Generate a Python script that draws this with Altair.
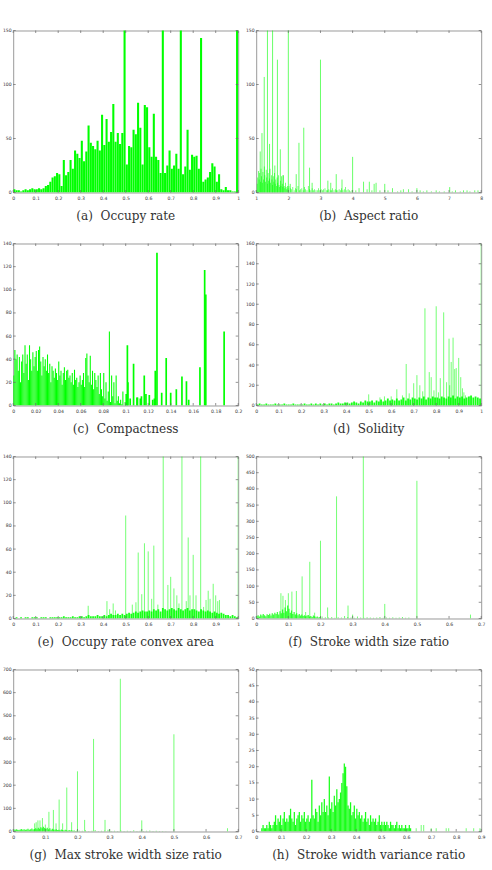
import altair as alt
import pandas as pd

GREEN = "#00ff00"
FRAME = "#9a9a9a"
TICK = "#666666"
W, H = 225, 162
GAP = "\u00a0\u00a0"   # wide gap between a sub-caption's letter and its text

# ---------------- (a) Occupy rate: 100 bins of width 0.01 on [0, 1]
a_counts = [3, 2, 2, 1, 2, 3, 2, 3, 4, 3,
            3, 4, 3, 4, 6, 7, 10, 14, 15, 18,
            17, 6, 30, 16, 19, 30, 22, 39, 36, 32,
            48, 29, 38, 62, 46, 43, 40, 48, 39, 72,
            44, 68, 47, 56, 82, 47, 55, 45, 55, 190,
            26, 43, 42, 58, 54, 83, 60, 26, 81, 79,
            42, 33, 73, 33, 30, 18, 190, 18, 25, 39,
            22, 25, 36, 22, 190, 17, 24, 58, 21, 35,
            33, 34, 22, 143, 10, 12, 14, 19, 27, 24,
            10, 17, 3, 2, 5, 2, 2, 1, 1, 190]

# ---------------- (b) Aspect ratio
b_low = [2, 8, 14, 20, 12, 18, 10, 22, 15, 9,
         19, 12, 24, 16, 10, 21, 14, 8, 18, 11,
         13, 22, 9, 16, 12, 7, 15, 10, 18, 8,
         12, 6, 14, 9, 16, 7, 5, 11, 6, 15,
         8, 5, 16, 6, 4, 9, 5, 3, 6, 4]            # 1.00 .. 2.00, step 0.02
b_mid = [6, 4, 3, 5, 2, 4, 3, 6, 2, 3,
         4, 2, 5, 3, 2, 6, 3, 2, 4, 2,
         3, 2, 2, 4, 2, 3, 2, 3, 4, 2,
         2, 3, 2, 2, 4, 2, 3, 2, 2, 3,
         2, 4, 2, 3, 5, 2, 3, 2, 1, 2]              # 2.00 .. 4.00, step 0.04
b_spike_x = [1.125, 1.18, 1.25, 1.35, 1.415, 1.51, 1.58, 1.66, 1.75, 1.83,
             2.0, 2.06, 2.245, 2.33, 2.48, 2.66, 2.74, 3.0, 3.23, 3.32,
             3.49, 3.67, 4.0, 4.2, 4.34, 4.52, 4.67, 4.73, 5.0, 5.24,
             5.58, 5.74, 6.0, 6.31, 7.02, 7.2, 7.56, 7.8,
             4.1, 4.45, 4.6, 4.85, 5.1, 5.4, 5.5, 5.85, 6.1, 6.2,
             6.45, 6.6, 6.7, 6.85, 7.1, 7.35, 7.45, 7.65, 7.9]
b_spike_n = [38, 55, 107, 180, 45, 180, 25, 123, 40, 16,
             180, 8, 17, 46, 60, 23, 9, 123, 11, 9,
             17, 12, 33, 4, 10, 10, 8, 9, 8, 4,
             3, 3, 4, 2, 5, 2, 2, 2,
             2, 3, 2, 2, 2, 1, 2, 1, 2, 1,
             1, 2, 1, 1, 1, 1, 2, 1, 2]

# ---------------- (c) Compactness
c_low = [26, 48, 40, 44, 30, 42, 20, 38, 44, 28,
         52, 36, 44, 22, 52, 40, 30, 46, 34, 42,
         47, 30, 48, 51, 38, 26, 42, 34, 40, 30,
         44, 28, 36, 20, 34, 30, 24, 32, 28, 22,
         38, 26, 30, 18, 28, 33, 22, 30, 31, 24,
         26, 20, 28, 18, 31, 22, 24, 16, 20, 26,
         18, 22, 28, 16, 41, 45, 26, 20, 43, 18,
         30, 14, 28, 22, 16, 26, 10, 28, 14, 8,
         28, 6, 20, 4, 12, 64, 3, 26, 8, 20,
         2, 26, 4, 8, 2, 5, 1, 12, 0, 3]            # 0 .. 0.1, step 0.001
c_spike_x = [0.1005, 0.1015, 0.102, 0.104, 0.107, 0.110, 0.1105, 0.113, 0.114, 0.1165,
             0.118, 0.121, 0.124, 0.1255, 0.1263, 0.1278, 0.132, 0.136, 0.14, 0.145,
             0.15, 0.154, 0.156, 0.166, 0.1702, 0.1712, 0.1875]
c_spike_n = [10, 52, 20, 6, 36, 7, 7, 6, 8, 26,
             10, 9, 5, 6, 30, 132, 11, 41, 11, 14,
             25, 21, 5, 33, 117, 96, 64]

# ---------------- (d) Solidity
d_low = [1, 2, 1, 1, 2, 1, 1, 1, 2, 1,
         1, 1, 2, 1, 1, 1, 2, 1, 1, 1,
         1, 2, 1, 1, 2, 1, 2, 1, 2, 1,
         2, 1, 2, 2, 1, 2, 3, 2, 2, 3,
         3, 2, 3, 4, 3, 2, 4, 3, 5, 4,
         4, 5, 3, 5, 4, 6, 4, 5, 7, 5,
         6, 5, 7, 5, 6, 8, 5, 7, 6, 8,
         7, 6, 8, 7, 9, 6, 8, 7, 9, 8,
         8, 7, 9, 8, 7, 9, 8, 10, 7, 9,
         8, 9, 7, 8, 9, 10, 8, 9, 8, 7]             # 0 .. 1, step 0.01
d_spike_x = [0.5, 0.6, 0.625, 0.6667, 0.7, 0.7143, 0.7273, 0.75, 0.7692, 0.7778,
             0.8, 0.8182, 0.8333, 0.8462, 0.8571, 0.8667, 0.875, 0.8824, 0.8889, 0.9,
             0.9091, 0.9167, 0.9231, 1.0,
             0.55, 0.57, 0.65, 0.68, 0.74, 0.79, 0.81, 0.86, 0.93, 0.95]
d_spike_n = [11, 9, 16, 41, 22, 30, 20, 96, 33, 28,
             98, 27, 92, 23, 66, 43, 67, 36, 37, 47,
             28, 17, 13, 180,
             8, 9, 10, 12, 14, 15, 13, 20, 10, 9]

# ---------------- (e) Occupy rate convex area
e_low = [0, 1, 0, 1, 0, 1, 1, 0, 1, 1,
         1, 0, 1, 1, 1, 0, 1, 1, 1, 1,
         1, 1, 2, 1, 1, 1, 2, 1, 1, 2,
         2, 1, 2, 3, 2, 2, 2, 3, 2, 2,
         3, 2, 3, 4, 3, 3, 4, 3, 4, 3,
         4, 5, 4, 5, 6, 5, 6, 7, 6, 6,
         7, 6, 8, 7, 8, 6, 9, 8, 7, 8,
         9, 8, 7, 9, 8, 7, 8, 9, 7, 8,
         8, 7, 6, 8, 7, 6, 7, 6, 5, 6,
         5, 4, 5, 4, 3, 3, 2, 3, 2, 1]             # 0 .. 1, step 0.01
e_spike_x = [0.3333, 0.4167, 0.4286, 0.4444, 0.4545, 0.5, 0.5294, 0.5455, 0.5556, 0.5714,
             0.5833, 0.6, 0.6154, 0.625, 0.6429, 0.6667, 0.6875, 0.7, 0.7143, 0.7273,
             0.7368, 0.75, 0.7692, 0.7778, 0.7857, 0.8, 0.8125, 0.8333, 0.8462, 0.8571,
             0.8667, 0.875, 0.8889, 0.9, 0.9091, 0.9167, 1.0]
e_spike_n = [11, 15, 8, 13, 7, 89, 12, 14, 57, 21,
             65, 58, 17, 63, 12, 180, 29, 36, 26, 20,
             13, 180, 15, 70, 20, 55, 20, 180, 10, 16,
             24, 17, 30, 20, 15, 16, 180]

# ---------------- (f) Stroke width size ratio
f_low = [8, 10, 6, 12, 9, 14, 10, 7, 13, 11,
         15, 9, 16, 12, 18, 14, 20, 12, 22, 16,
         28, 18, 34, 22, 40, 30, 18, 25, 14, 20,
         12, 16, 10, 14, 9, 12, 8, 10, 7, 9,
         11, 6, 8, 5, 9, 7, 4, 6, 3, 5]             # 0 .. 0.2, step 0.004
f_mid = [6, 4, 3, 5, 2, 4, 3, 8, 5, 3,
         2, 6, 3, 2, 4, 3, 2, 3, 5, 2,
         3, 2, 4, 2, 3, 5, 2, 3]                    # 0.2 .. 0.48, step 0.01
f_spike_x = [0.0769, 0.0833, 0.0909, 0.1, 0.1111, 0.125, 0.1429, 0.1538, 0.1667, 0.1818,
             0.2, 0.2222, 0.25, 0.2857, 0.3, 0.3333, 0.4, 0.5, 0.6667]
f_spike_n = [78, 70, 57, 78, 83, 85, 130, 20, 175, 18,
             240, 34, 377, 40, 12, 520, 45, 425, 12]

# ---------------- (g) Max stroke width size ratio
g_low = [9, 7, 10, 8, 6, 9, 11, 8, 10, 7,
         9, 12, 8, 10, 13, 9, 11, 14, 10, 16,
         12, 18, 14, 20, 15, 12, 16, 10, 14, 8,
         12, 9, 7, 10, 6, 8, 5, 9, 6, 4,
         7, 5, 3, 6, 4, 5, 3, 4, 2, 3]              # 0 .. 0.2, step 0.004
g_mid = [4, 3, 5, 2, 3, 6, 2, 3, 4, 8,
         2, 3, 2, 4, 2, 3, 2, 5, 2, 3,
         2, 3, 4, 2, 3, 2, 2, 1]                    # 0.2 .. 0.48, step 0.01
g_spike_x = [0.0667, 0.0714, 0.0769, 0.0833, 0.0909, 0.1, 0.1111, 0.125, 0.1333, 0.1429,
             0.1538, 0.1667, 0.1818, 0.2, 0.2222, 0.25, 0.2857, 0.3, 0.3333, 0.4,
             0.5, 0.6667]
g_spike_n = [35, 40, 48, 48, 58, 30, 85, 93, 35, 138,
             35, 190, 40, 260, 50, 400, 50, 10, 660, 48,
             420, 14]

# ---------------- (h) Stroke width variance ratio
h_low = [1, 2, 1, 1, 2, 1, 3, 2, 1, 2,
         3, 5, 2, 4, 3, 5, 2, 4, 6, 3,
         4, 3, 5, 7, 4, 3, 6, 2, 4, 5,
         6, 3, 5, 4, 6, 3, 4, 5, 3, 4,
         16, 5, 4, 7, 6, 3, 8, 5, 9, 6,
         10, 6, 8, 5, 17, 7, 9, 6, 11, 8,
         13, 9, 10, 12, 15, 18, 21, 20, 14, 8,
         7, 9, 5, 6, 8, 4, 7, 5, 6, 4,
         5, 3, 4, 6, 3, 4, 2, 5, 3, 4,
         3, 4, 2, 3, 5, 2, 3, 2, 3, 2,
         3, 2, 1, 3, 2, 2, 1, 2, 3, 1,
         2, 1, 2, 1, 1, 2, 1, 1, 2, 1]              # 0.02 .. 0.62, step 0.005
h_spike_x = [0.64, 0.66, 0.67, 0.70, 0.72, 0.76, 0.77, 0.84, 0.87, 0.895]
h_spike_n = [1, 2, 2, 1, 1, 1, 1, 1, 1, 1]


def binned(start, step, counts):
    """Histogram bins given by their first edge and width -> bin centres."""
    return pd.DataFrame({"x": [start + step * (i + 0.5) for i in range(len(counts))],
                         "n": counts})


def points(xs, ns):
    return pd.DataFrame({"x": xs, "n": ns})


def bars(df, width, opacity=1.0):
    return ("rect", df, width, opacity)


def lines(df, stroke=1.0, opacity=0.55):
    return ("rule", df, stroke, opacity)


def panel(caption, xdom, xticks, ydom, yticks, layers):
    xs = alt.Scale(domain=xdom, nice=False, zero=False)
    ys = alt.Scale(domain=ydom, nice=False, zero=False)
    lab = dict(format=".6~g", title=None, ticks=False, domain=False, grid=False,
               labelFontSize=4.6, labelColor="#333333", labelFont="DejaVu Sans",
               labelOverlap=False)
    ax = alt.Axis(values=xticks, labelPadding=3, labelFlush=False, **lab)
    ay = alt.Axis(values=yticks, labelPadding=2, **lab)
    charts = []
    for kind, df, size, op in layers:
        if kind == "rect":
            half = size / 2
            c = (alt.Chart(df)
                 .transform_calculate(x0=f"datum.x - {half}", x1=f"datum.x + {half}")
                 .mark_rect(color=GREEN, opacity=op, clip=True)
                 .encode(x=alt.X("x0:Q", scale=xs, axis=ax), x2="x1:Q",
                         y=alt.Y("n:Q", scale=ys, axis=ay), y2=alt.datum(0)))
        else:
            c = (alt.Chart(df)
                 .mark_rule(color=GREEN, opacity=op, strokeWidth=size, clip=True)
                 .encode(x=alt.X("x:Q", scale=xs, axis=ax),
                         y=alt.Y("n:Q", scale=ys, axis=ay), y2=alt.datum(0)))
        charts.append(c)

    # short inward ticks on all four sides of the box
    xt = pd.DataFrame({"t": xticks})
    yt = pd.DataFrame({"t": yticks})
    tk = dict(color=TICK, strokeWidth=0.7)
    charts += [
        alt.Chart(xt).mark_rule(**tk).encode(
            x=alt.X("t:Q", scale=xs, axis=ax), y=alt.value(0), y2=alt.value(2.5)),
        alt.Chart(xt).mark_rule(**tk).encode(
            x=alt.X("t:Q", scale=xs, axis=ax), y=alt.value(H), y2=alt.value(H - 2.5)),
        alt.Chart(yt).mark_rule(**tk).encode(
            y=alt.Y("t:Q", scale=ys, axis=ay), x=alt.value(0), x2=alt.value(2.5)),
        alt.Chart(yt).mark_rule(**tk).encode(
            y=alt.Y("t:Q", scale=ys, axis=ay), x=alt.value(W), x2=alt.value(W - 2.5)),
    ]
    return alt.layer(*charts).properties(
        width=W, height=H,
        title=alt.TitleParams(text=caption, orient="bottom", frame="group",
                              anchor="middle", font="DejaVu Serif", fontSize=12.1,
                              fontWeight="normal", color="#333333", offset=10),
    )


def ticks(lo, step, n):
    return [round(lo + step * i, 4) for i in range(n)]


pa = panel(f"(a){GAP}Occupy rate", [0, 1], ticks(0, 0.1, 11), [0, 150],
           [0, 50, 100, 150],
           [bars(binned(0, 0.01, a_counts), 0.0092)])

pb = panel(f"(b){GAP}Aspect ratio", [1, 8], ticks(1, 1, 8), [0, 150], [0, 50, 100, 150],
           [bars(binned(1.0, 0.02, b_low), 0.02, 0.85),
            bars(binned(2.0, 0.04, b_mid), 0.02, 0.8),
            lines(points(b_spike_x, b_spike_n), 1.0, 0.6)])

pc = panel(f"(c){GAP}Compactness", [0, 0.2], ticks(0, 0.02, 11), [0, 140],
           ticks(0, 20, 8),
           [bars(binned(0, 0.001, c_low), 0.00095),
            bars(points(c_spike_x, c_spike_n), 0.0015)])

pd_ = panel(f"(d){GAP}Solidity", [0, 1], ticks(0, 0.1, 11), [0, 160], ticks(0, 20, 9),
            [bars(binned(0, 0.01, d_low), 0.008, 0.9),
             lines(points(d_spike_x, d_spike_n), 1.0, 0.55)])

pe = panel(f"(e){GAP}Occupy rate convex area", [0, 1], ticks(0, 0.1, 11), [0, 140],
           ticks(0, 20, 8),
           [bars(binned(0, 0.01, e_low), 0.008, 0.9),
            lines(points(e_spike_x, e_spike_n), 1.0, 0.55)])

pf = panel(f"(f){GAP}Stroke width size ratio", [0, 0.7], ticks(0, 0.1, 8), [0, 500],
           ticks(0, 50, 11),
           [bars(binned(0, 0.004, f_low), 0.004, 0.75),
            bars(binned(0.2, 0.01, f_mid), 0.003, 0.6),
            lines(points(f_spike_x, f_spike_n), 1.0, 0.55)])

pg = panel(f"(g){GAP}Max stroke width size ratio", [0, 0.7], ticks(0, 0.1, 8), [0, 700],
           ticks(0, 100, 8),
           [bars(binned(0, 0.004, g_low), 0.004, 0.75),
            bars(binned(0.2, 0.01, g_mid), 0.003, 0.6),
            lines(points(g_spike_x, g_spike_n), 1.0, 0.55)])

ph = panel(f"(h){GAP}Stroke width variance ratio", [0, 0.9], ticks(0, 0.1, 10), [0, 50],
           ticks(0, 5, 11),
           [bars(binned(0.02, 0.005, h_low), 0.005, 0.9),
            lines(points(h_spike_x, h_spike_n), 1.0, 0.55)])

# Flush bounds: the grid is laid out from the plot boxes alone.
chart = (alt.concat(pa, pb, pc, pd_, pe, pf, pg, ph, columns=2,
                    spacing={"row": 51, "column": 18}, bounds="flush")
         .properties(padding={"left": 1.2, "top": 26.5, "right": 5, "bottom": 5},
                     background="white")
         .configure_view(stroke=FRAME, strokeWidth=1))

chart.save("out.html", embed_options={"renderer": "svg", "actions": False})
